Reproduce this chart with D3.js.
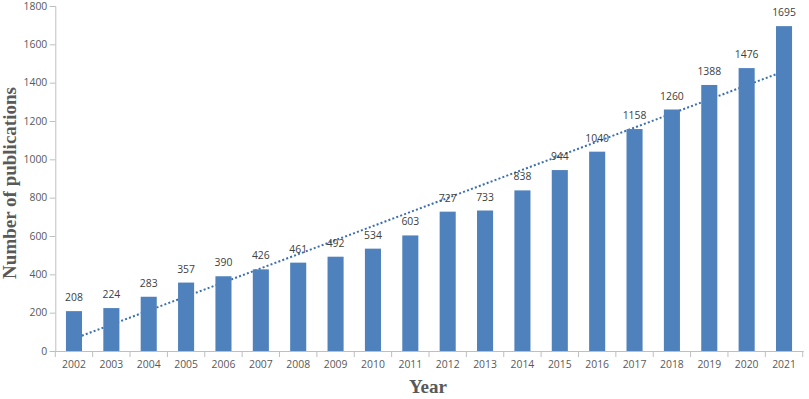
<!DOCTYPE html>
<html><head><meta charset="utf-8">
<script src="https://cdn.jsdelivr.net/npm/d3@7"></script>
<style>body{margin:0;background:#fff;} svg{display:block;}</style>
</head><body>
<svg id="c" width="809" height="399"></svg>
<script>
const years = ["2002","2003","2004","2005","2006","2007","2008","2009","2010","2011","2012","2013","2014","2015","2016","2017","2018","2019","2020","2021"];
const publications = [208,224,283,357,390,426,461,492,534,603,727,733,838,944,1040,1158,1260,1388,1476,1695];
const yTicks = [0,200,400,600,800,1000,1200,1400,1600,1800];

(function(){
const svg = d3.select("#c");
const mL = 55.3, mR = 802.7, mT = 6, mB = 351;
const FONT = "'Open Sans', sans-serif", FS = 10.4;
const x = d3.scaleBand().domain(years).range([mL, mR]).paddingInner(0.57).paddingOuter(0.285);
const xb = d3.scaleBand().domain(years).range([mL, mR]);
const y = d3.scaleLinear().domain([0,1800]).range([mB, mT]);

// trend line (behind bars)
const n = publications.length;
const xs = publications.map((d,i)=>i+1);
const mx = d3.mean(xs), my = d3.mean(publications);
const slope = d3.sum(xs.map((v,i)=>(v-mx)*(publications[i]-my))) / d3.sum(xs.map(v=>(v-mx)*(v-mx)));
const icpt = my - slope*mx;
svg.append("line")
  .attr("x1", xb(years[0]) + xb.bandwidth()/2)
  .attr("x2", xb(years[n-1]) + xb.bandwidth()/2)
  .attr("y1", y(icpt + slope*1))
  .attr("y2", y(icpt + slope*n))
  .attr("stroke", "#3c6fb0").attr("stroke-width", 2).attr("stroke-dasharray", "2,2.2");

// bars
svg.selectAll("rect.bar").data(publications).enter().append("rect")
  .attr("x", (d,i)=>x(years[i])).attr("width", x.bandwidth())
  .attr("y", d=>y(d)).attr("height", d=>mB - y(d))
  .attr("fill", "#4f81bd");

// data labels
svg.selectAll("text.lbl").data(publications).enter().append("text")
  .attr("x", (d,i)=>x(years[i]) + x.bandwidth()/2)
  .attr("y", d=>y(d) - 10)
  .attr("text-anchor","middle")
  .attr("font-family",FONT).attr("font-size", FS)
  .attr("fill","#404040").text(d=>d);

// y axis
const ya = svg.append("g").attr("transform", `translate(${mL},0)`)
  .call(d3.axisLeft(y).tickValues(yTicks).tickSize(5.5).tickPadding(2.5).tickFormat(d3.format("d")));
ya.select(".domain").attr("stroke","#bfbfbf");
ya.selectAll(".tick line").attr("stroke","#bfbfbf");
ya.selectAll("text").attr("font-family",FONT).attr("font-size",FS).attr("fill","#595959");

// x axis
const xa = svg.append("g").attr("transform", `translate(0,${mB})`)
  .call(d3.axisBottom(xb).tickSize(0).tickPadding(10));
xa.select(".domain").attr("stroke","#bfbfbf").attr("d", `M${mL},0.5H${mR+1}`);
xa.selectAll("text").attr("font-family",FONT).attr("font-size",FS).attr("fill","#595959");
const bounds = years.map(yr=>xb(yr)).concat([mR]);
xa.selectAll("line.bt").data(bounds).enter().append("line")
  .attr("x1", d=>d).attr("x2", d=>d).attr("y1", 0).attr("y2", 6)
  .attr("stroke","#bfbfbf");

// axis titles
svg.append("text").attr("x", 428).attr("y", 393).attr("text-anchor","middle")
  .attr("font-family","'Liberation Serif', serif").attr("font-weight","bold").attr("font-size",19)
  .attr("fill","#595959").text("Year");
svg.append("text").attr("transform","translate(16,183) rotate(-90)").attr("text-anchor","middle")
  .attr("font-family","'Liberation Serif', serif").attr("font-weight","bold").attr("font-size",19)
  .attr("fill","#595959").text("Number of publications");
})();
</script>
</body></html>
